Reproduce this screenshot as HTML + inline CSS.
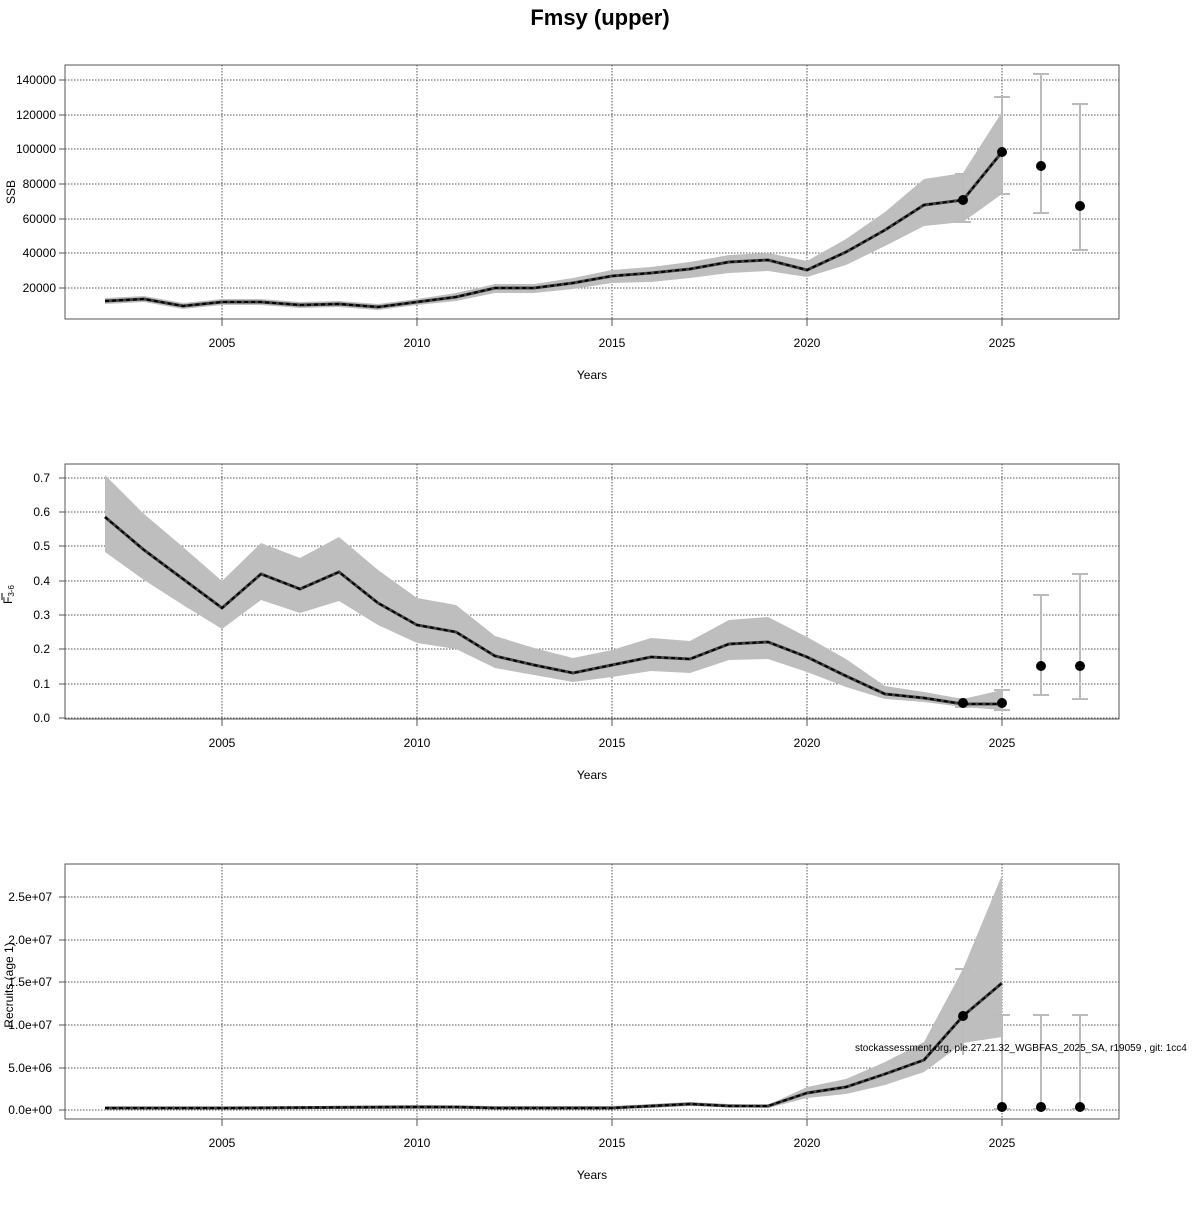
<!DOCTYPE html>
<html><head><meta charset="utf-8"><style>
body{margin:0;background:#fff}
svg text{font-family:"Liberation Sans",sans-serif;fill:#000}
</style></head><body>
<svg width="1200" height="1200" viewBox="0 0 1200 1200" xmlns="http://www.w3.org/2000/svg">
<text x="600" y="25" font-size="22" font-weight="bold" text-anchor="middle">Fmsy (upper)</text>
<g id="p1">
<g stroke="#555" stroke-width="1" stroke-dasharray="1.5,1.5">
<line x1="222" y1="65" x2="222" y2="319"/><line x1="417" y1="65" x2="417" y2="319"/><line x1="612" y1="65" x2="612" y2="319"/><line x1="807" y1="65" x2="807" y2="319"/><line x1="1002" y1="65" x2="1002" y2="319"/>
<line x1="65" y1="80" x2="1119" y2="80"/><line x1="65" y1="115" x2="1119" y2="115"/><line x1="65" y1="149" x2="1119" y2="149"/><line x1="65" y1="184" x2="1119" y2="184"/><line x1="65" y1="219" x2="1119" y2="219"/><line x1="65" y1="253" x2="1119" y2="253"/><line x1="65" y1="288" x2="1119" y2="288"/>
</g>
<polygon fill="#bebebe" points="105,298 144,296 183,303 222,299 261,299 300,302 339,301 378,304 417,299 456,293 495,284 534,284 573,278 612,270 651,267 690,262 729,255 768,253 807,261 846,239 885,212 924,179 963,173 1002,112 1002,194 963,222 924,226 885,246 846,265 807,277 768,271 729,273 690,278 651,282 612,283 573,289 534,293 495,293 456,301 417,305 378,310 339,307 300,308 261,305 222,305 183,309 144,302 105,304"/>
<g stroke="#bbb" stroke-width="2" fill="none"><path d="M963,174V222M955,174H971M955,222H971M1002,97V194M994,97H1010M994,194H1010M1041,74V213M1033,74H1049M1033,213H1049M1080,104V250M1072,104H1088M1072,250H1088"/></g>
<polyline fill="none" stroke="#444" stroke-width="3" points="105,301 144,299 183,306 222,302 261,302 300,305 339,304 378,307 417,302 456,297 495,288 534,288 573,283 612,276 651,273 690,269 729,262 768,260 807,270 846,252 885,230 924,205 963,200 1002,152"/>
<polyline fill="none" stroke="#000" stroke-width="2" stroke-dasharray="4,3" points="105,301 144,299 183,306 222,302 261,302 300,305 339,304 378,307 417,302 456,297 495,288 534,288 573,283 612,276 651,273 690,269 729,262 768,260 807,270 846,252 885,230 924,205 963,200 1002,152"/>
<g fill="#000"><circle cx="963" cy="200" r="5"/><circle cx="1002" cy="152" r="5"/><circle cx="1041" cy="166" r="5"/><circle cx="1080" cy="206" r="5"/></g>
<rect x="65" y="65" width="1054" height="254" fill="none" stroke="#555"/>
<g stroke="#555"><path d="M59,80H65M59,115H65M59,149H65M59,184H65M59,219H65M59,253H65M59,288H65M222,319V326M417,319V326M612,319V326M807,319V326M1002,319V326"/></g>
<g font-size="12" text-anchor="end"><text x="56" y="84">140000</text><text x="56" y="119">120000</text><text x="56" y="153">100000</text><text x="56" y="188">80000</text><text x="56" y="223">60000</text><text x="56" y="257">40000</text><text x="56" y="292">20000</text></g>
<g font-size="12" text-anchor="middle"><text x="222" y="347">2005</text><text x="417" y="347">2010</text><text x="612" y="347">2015</text><text x="807" y="347">2020</text><text x="1002" y="347">2025</text><text x="592" y="379">Years</text></g>
<text transform="translate(15,192) rotate(-90)" font-size="12" text-anchor="middle">SSB</text>
</g>

<g id="p2">
<g stroke="#555" stroke-width="1" stroke-dasharray="1.5,1.5">
<line x1="222" y1="464" x2="222" y2="719"/><line x1="417" y1="464" x2="417" y2="719"/><line x1="612" y1="464" x2="612" y2="719"/><line x1="807" y1="464" x2="807" y2="719"/><line x1="1002" y1="464" x2="1002" y2="719"/>
<line x1="65" y1="478" x2="1119" y2="478"/><line x1="65" y1="512" x2="1119" y2="512"/><line x1="65" y1="546" x2="1119" y2="546"/><line x1="65" y1="581" x2="1119" y2="581"/><line x1="65" y1="615" x2="1119" y2="615"/><line x1="65" y1="649" x2="1119" y2="649"/><line x1="65" y1="684" x2="1119" y2="684"/><line x1="65" y1="718" x2="1119" y2="718"/>
</g>
<polygon fill="#bebebe" points="105,475 144,514 183,547 222,581 261,543 300,558 339,537 378,570 417,598 456,605 495,636 534,648 573,658 612,650 651,638 690,641 729,620 768,617 807,637 846,659 885,686 924,692 963,699 1002,690 1002,710 963,707 924,702 885,699 846,687 807,672 768,659 729,660 690,673 651,671 612,677 573,682 534,675 495,668 456,649 417,643 378,625 339,601 300,613 261,600 222,629 183,605 144,580 105,552"/>
<g stroke="#bbb" stroke-width="2" fill="none"><path d="M963,699V707M955,699H971M955,707H971M1002,690V710M994,690H1010M994,710H1010M1041,595V695M1033,595H1049M1033,695H1049M1080,574V699M1072,574H1088M1072,699H1088"/></g>
<polyline fill="none" stroke="#444" stroke-width="3" points="105,517 144,550 183,579 222,608 261,574 300,589 339,572 378,603 417,625 456,632 495,656 534,665 573,673 612,665 651,657 690,659 729,644 768,642 807,657 846,676 885,694 924,698 963,704 1002,704"/>
<polyline fill="none" stroke="#000" stroke-width="2" stroke-dasharray="4,3" points="105,517 144,550 183,579 222,608 261,574 300,589 339,572 378,603 417,625 456,632 495,656 534,665 573,673 612,665 651,657 690,659 729,644 768,642 807,657 846,676 885,694 924,698 963,704 1002,704"/>
<g fill="#000"><circle cx="963" cy="703" r="5"/><circle cx="1002" cy="703" r="5"/><circle cx="1041" cy="666" r="5"/><circle cx="1080" cy="666" r="5"/></g>
<rect x="65" y="464" width="1054" height="255" fill="none" stroke="#555"/>
<g stroke="#555"><path d="M59,478H65M59,512H65M59,546H65M59,581H65M59,615H65M59,649H65M59,684H65M59,718H65M222,719V726M417,719V726M612,719V726M807,719V726M1002,719V726"/></g>
<g font-size="12" text-anchor="end"><text x="50" y="482">0.7</text><text x="50" y="516">0.6</text><text x="50" y="550">0.5</text><text x="50" y="585">0.4</text><text x="50" y="619">0.3</text><text x="50" y="653">0.2</text><text x="50" y="688">0.1</text><text x="50" y="722">0.0</text></g>
<g font-size="12" text-anchor="middle"><text x="222" y="747">2005</text><text x="417" y="747">2010</text><text x="612" y="747">2015</text><text x="807" y="747">2020</text><text x="1002" y="747">2025</text><text x="592" y="779">Years</text></g>
<text transform="translate(12,604) rotate(-90)" font-size="12">F<tspan font-size="8" dy="2">3-6</tspan></text>
<line x1="2" y1="593" x2="2" y2="600" stroke="#000"/>
</g>

<g id="p3">
<g stroke="#555" stroke-width="1" stroke-dasharray="1.5,1.5">
<line x1="222" y1="864" x2="222" y2="1119"/><line x1="417" y1="864" x2="417" y2="1119"/><line x1="612" y1="864" x2="612" y2="1119"/><line x1="807" y1="864" x2="807" y2="1119"/><line x1="1002" y1="864" x2="1002" y2="1119"/>
<line x1="65" y1="897" x2="1119" y2="897"/><line x1="65" y1="940" x2="1119" y2="940"/><line x1="65" y1="982" x2="1119" y2="982"/><line x1="65" y1="1025" x2="1119" y2="1025"/><line x1="65" y1="1068" x2="1119" y2="1068"/><line x1="65" y1="1110" x2="1119" y2="1110"/>
</g>
<polygon fill="#bebebe" points="105,1107 183,1107 222,1107 417,1105 495,1106 612,1106 651,1104 690,1102 729,1104 768,1105 807,1087 846,1079 885,1062 924,1042 963,969 1002,875 1002,1037 963,1043 924,1072 885,1085 846,1094 807,1098 768,1108 729,1107 690,1106 651,1108 612,1109 417,1109 222,1109 105,1109"/>
<g stroke="#bbb" stroke-width="2" fill="none"><path d="M963,969V1055M955,969H971M1002,1015V1110M994,1015H1010M1041,1015V1110M1033,1015H1049M1080,1015V1110M1072,1015H1088M994,1109H1010M1033,1109H1049M1072,1109H1088"/></g>
<polyline fill="none" stroke="#444" stroke-width="3" points="105,1108 144,1108 183,1108 222,1108 417,1107 456,1107 495,1108 612,1108 651,1106 690,1104 729,1106 768,1106 807,1093 846,1087 885,1074 924,1060 963,1016 1002,983"/>
<polyline fill="none" stroke="#000" stroke-width="2" stroke-dasharray="4,3" points="105,1108 144,1108 183,1108 222,1108 417,1107 456,1107 495,1108 612,1108 651,1106 690,1104 729,1106 768,1106 807,1093 846,1087 885,1074 924,1060 963,1016 1002,983"/>
<g fill="#000"><circle cx="963" cy="1016" r="5"/><circle cx="1002" cy="1107" r="5"/><circle cx="1041" cy="1107" r="5"/><circle cx="1080" cy="1107" r="5"/></g>
<rect x="65" y="864" width="1054" height="255" fill="none" stroke="#555"/>
<g stroke="#555"><path d="M59,897H65M59,940H65M59,982H65M59,1025H65M59,1068H65M59,1110H65M222,1119V1126M417,1119V1126M612,1119V1126M807,1119V1126M1002,1119V1126"/></g>
<g font-size="12" text-anchor="end"><text x="52" y="901">2.5e+07</text><text x="52" y="944">2.0e+07</text><text x="52" y="986">1.5e+07</text><text x="52" y="1029">1.0e+07</text><text x="52" y="1072">5.0e+06</text><text x="52" y="1114">0.0e+00</text></g>
<g font-size="12" text-anchor="middle"><text x="222" y="1147">2005</text><text x="417" y="1147">2010</text><text x="612" y="1147">2015</text><text x="807" y="1147">2020</text><text x="1002" y="1147">2025</text><text x="592" y="1179">Years</text></g>
<text transform="translate(13,985) rotate(-90)" font-size="12" text-anchor="middle">Recruits (age 1)</text>
<text x="855" y="1051" font-size="10">stockassessment.org, ple.27.21.32_WGBFAS_2025_SA, r19059 , git: 1cc4</text>
</g>
</svg>
</body></html>
